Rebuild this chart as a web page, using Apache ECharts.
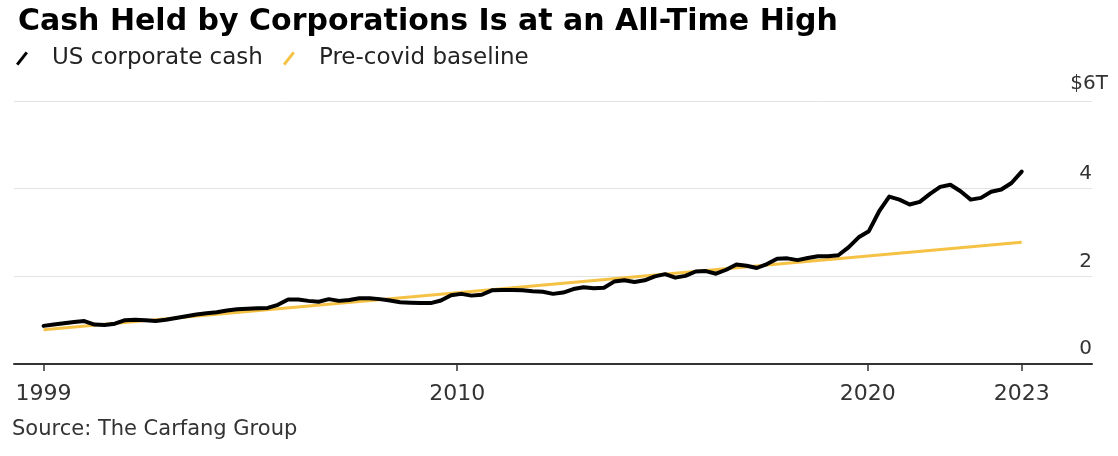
<!DOCTYPE html>
<html>
<head>
<meta charset="utf-8">
<script src="https://cdn.jsdelivr.net/npm/echarts@6/dist/echarts.min.js"></script>
<style>
  html, body { margin: 0; padding: 0; background: #fff; }
  #main { width: 1118px; height: 456px; }
</style>
</head>
<body>
<div id="main"></div>
<script>
// quarterly corporate cash, $T, index 0 = first quarter of 1999
const cash = [
  0.87, 0.90, 0.93, 0.96, 0.98, 0.90, 0.89, 0.92, 1.00, 1.01,
  1.00, 0.98, 1.01, 1.05, 1.09, 1.13, 1.16, 1.18, 1.22, 1.25,
  1.26, 1.27, 1.28, 1.35, 1.47, 1.47, 1.44, 1.42, 1.48, 1.44,
  1.46, 1.50, 1.50, 1.48, 1.45, 1.41, 1.40, 1.39, 1.39, 1.45,
  1.57, 1.60, 1.56, 1.58, 1.68, 1.69, 1.69, 1.68, 1.66, 1.65,
  1.60, 1.63, 1.71, 1.75, 1.73, 1.74, 1.88, 1.91, 1.87, 1.91,
  2.00, 2.05, 1.97, 2.01, 2.11, 2.12, 2.06, 2.15, 2.27, 2.24,
  2.19, 2.28, 2.40, 2.41, 2.37, 2.42, 2.46, 2.46, 2.48, 2.66,
  2.89, 3.03, 3.48, 3.82, 3.75, 3.64, 3.70, 3.88, 4.04, 4.09,
  3.94, 3.75, 3.79, 3.93, 3.98, 4.13, 4.39
];
// straight pre-covid trend: start and end points only
const baselineIdx = [0, 96];
const baselineVal = [0.78, 2.78];

const tickPos = [0, 40.6, 80.9, 96];
const tickLabels = ['1999', '2010', '2020', '2023'];

const font = '"DejaVu Sans", sans-serif';

const chart = echarts.init(document.getElementById('main'));

chart.setOption({
  animation: false,
  title: [
    {
      text: 'Cash Held by Corporations Is at an All-Time High',
      left: 18,
      top: 7,
      padding: 0,
      textStyle: { fontFamily: font, fontWeight: 'bold', fontSize: 30, color: '#000' }
    },
    {
      text: 'Source: The Carfang Group',
      left: 12,
      top: 419,
      padding: 0,
      textStyle: { fontFamily: font, fontWeight: 'normal', fontSize: 21, color: '#333' }
    }
  ],
  legend: {
    left: 16,
    top: 47,
    padding: 0,
    itemWidth: 12,
    itemHeight: 14,
    itemGap: 20,
    icon: 'path://M0,12.3 L9.6,0 L12,1.7 L2.4,14 Z',
    data: ['US corporate cash', 'Pre-covid baseline'],
    textStyle: { fontFamily: font, fontSize: 23, color: '#222', padding: [0, 0, 0, 19] }
  },
  grid: { left: 14, right: 26, top: 101, bottom: 92 },
  xAxis: {
    type: 'value',
    min: -2.9,
    max: 102.9,
    axisLine: { show: true, lineStyle: { color: '#333', width: 2 } },
    axisTick: { show: true, customValues: tickPos, length: 7, lineStyle: { color: '#333', width: 1.5 } },
    axisLabel: {
      customValues: tickPos,
      margin: 19,
      fontFamily: font,
      fontSize: 22,
      color: '#333',
      formatter: (v) => {
        const k = tickPos.findIndex((p) => Math.abs(p - v) < 0.01);
        return k >= 0 ? tickLabels[k] : '';
      }
    },
    splitLine: { show: false }
  },
  yAxis: {
    type: 'value',
    position: 'right',
    min: 0,
    max: 6,
    interval: 2,
    axisLine: { show: false },
    axisTick: { show: false },
    axisLabel: {
      inside: true,
      margin: -16,
      verticalAlign: 'bottom',
      fontFamily: font,
      fontSize: 20,
      color: '#333',
      formatter: (v) => (v === 6 ? '{u|$6T}' : '{n|' + v + '}'),
      rich: {
        n: { fontFamily: font, fontSize: 20, color: '#333', padding: [0, 16, 5, 0] },
        u: { fontFamily: font, fontSize: 20, color: '#333', padding: [0, 0, 7, 0] }
      }
    },
    splitLine: { lineStyle: { color: '#e2e2e2', width: 1 } }
  },
  series: [
    {
      name: 'Pre-covid baseline',
      type: 'line',
      z: 1,
      symbol: 'none',
      color: '#f5c245',
      lineStyle: { color: '#f5c245', width: 3 },
      data: baselineIdx.map((x, i) => [x, baselineVal[i]])
    },
    {
      name: 'US corporate cash',
      type: 'line',
      z: 2,
      symbol: 'none',
      color: '#000',
      lineStyle: { color: '#000', width: 4, join: 'round', cap: 'round' },
      data: cash.map((v, i) => [i, v])
    }
  ]
});
</script>
</body>
</html>
